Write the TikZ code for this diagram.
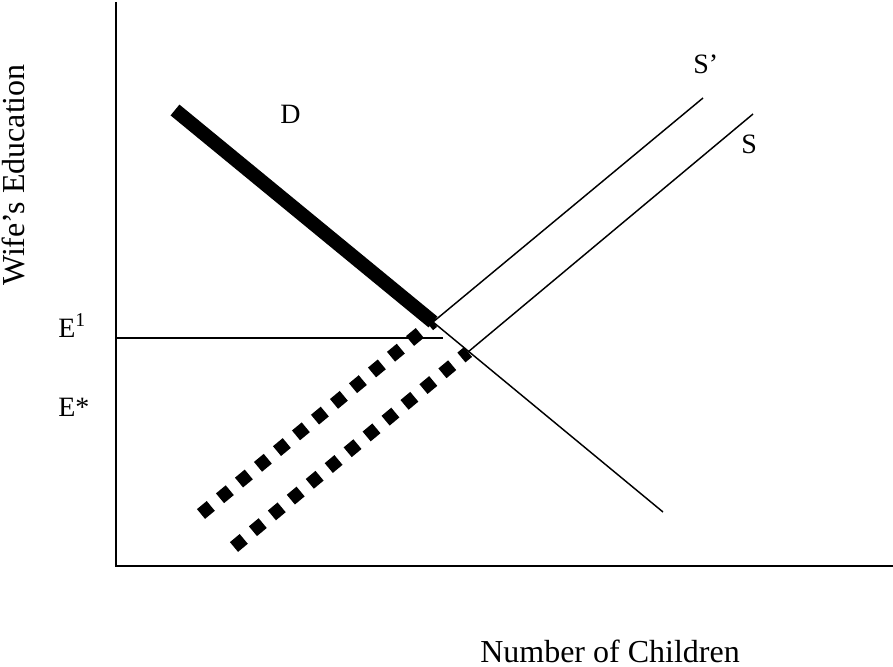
\documentclass[tikz,border=0pt]{standalone}
\usepackage{fontspec}
\setmainfont{Liberation Serif}

\begin{document}
\begin{tikzpicture}[x=0.75pt,y=-0.75pt,line cap=butt,
  axis/.style={line width=1.5pt},
  curve/.style={line width=1.1pt},
  heavy/.style={line width=10.5pt},
  shifted/.style={line width=9.5pt,dash pattern=on 9.5pt off 9pt},
  axislabel/.style={font=\fontsize{24}{28}\selectfont,inner sep=0pt},
  curvelabel/.style={font=\fontsize{21}{25}\selectfont,inner sep=0pt}]

\useasboundingbox (0,0) rectangle (893,667);

% Axes.
\coordinate (ytop) at (116,2);
\coordinate (origin) at (116,566);
\coordinate (xend) at (893,566);
\draw[axis] (ytop) -- (origin) -- (xend);

% Crossing points of the curves.
\coordinate (A) at (433,322);
\coordinate (B) at (468,352);

% Demand: heavy above the first crossing, thin below it.
\coordinate (Dtop) at (175,110);
\coordinate (Dend) at (663,512);
\draw[heavy] (Dtop) -- (A);
\draw[curve] (A) -- (Dend);

% Supply curves, dotted up to the demand curve.
\coordinate (Splow) at (201,514);
\coordinate (Sptop) at (703,98);
\draw[shifted] (Splow) -- (A);
\draw[curve] (A) -- (Sptop);

\coordinate (Slow) at (234,547);
\coordinate (Stop) at (753,114);
\draw[shifted] (Slow) -- (B);
\draw[curve] (B) -- (Stop);

% Education level E1.
\coordinate (Eleft) at (116,338);
\coordinate (Eright) at (443,338);
\draw[curve] (Eleft) -- (Eright);

% Labels.
\node[curvelabel,anchor=base west] (labD) at (280,123) {D};
\node[curvelabel,anchor=base west] (labSp) at (693,74) {S'};
\node[curvelabel,anchor=base west] (labS) at (741,153) {S};
\node[curvelabel,anchor=base west] (labE1) at (58,337) {E\textsuperscript{1}};
\node[curvelabel,anchor=base west] (labEs) at (58,416) {E*};
\node[axislabel,anchor=base,rotate=90] (ylab) at (25,175) {Wife's Education};
\node[axislabel,anchor=base] (xlab) at (610,662) {Number of Children};
\end{tikzpicture}
\end{document}
